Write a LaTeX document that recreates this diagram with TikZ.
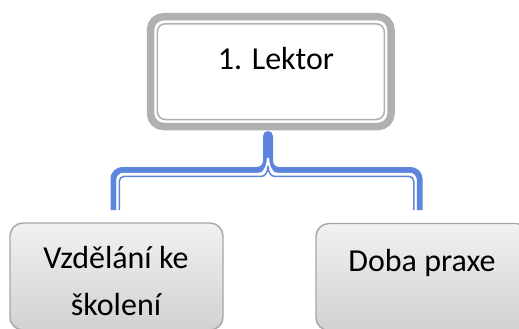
\documentclass[tikz,border=0pt]{standalone}
\usepackage{fontspec}
\setmainfont{Carlito}
\usetikzlibrary{calc}
\definecolor{linkblue}{RGB}{94,133,221}
\definecolor{framegray}{RGB}{176,176,176}
\definecolor{boxedge}{RGB}{166,166,166}
\definecolor{boxtop}{RGB}{241,241,241}
\definecolor{boxbottom}{RGB}{210,210,210}
\begin{document}
\begin{tikzpicture}[x=1pt,y=-1pt,
  leaderframe/.style={draw=framegray, line width=7.5pt, rounded corners=13pt,
    fill=white, outer sep=0pt, inner sep=0pt},
  leaderinner/.style={draw=framegray, line width=1.5pt, rounded corners=8pt},
  childbox/.style={draw=boxedge, line width=1.4pt, rounded corners=13pt,
    top color=boxtop, bottom color=boxbottom, outer sep=0pt, inner sep=0pt},
  thickline/.style={draw=linkblue, line width=6pt, rounded corners=9pt},
  gapline/.style={draw=white, line width=2.2pt, rounded corners=6pt},
  thinline/.style={draw=linkblue, line width=1.5pt, rounded corners=5pt},
  label/.style={inner sep=0pt, outer sep=0pt, anchor=base,
    font=\fontsize{32}{38}\selectfont}]
  \useasboundingbox (0,0) rectangle (519,329);

  % top box with its thick-thin frame
  \node[leaderframe, minimum width=240.5pt, minimum height=109.8pt] (top) at (270.75,71.6) {};
  \draw[leaderinner] ($(top.north west)+(6.8,7.1)$) rectangle ($(top.south east)+(-6.7,-7)$);
  \node[label] (lektor) at (276,69.3) {1. Lektor};

  % child boxes
  \node[childbox, minimum width=213pt, minimum height=107pt] (edu) at (116.5,276.5) {};
  \node[childbox, minimum width=213pt, minimum height=107pt] (exp) at (422.5,277) {};
  \node[label] (edu1) at (116,268.3) {Vzdělání ke};
  \node[label] (edu2) at (116,315) {školení};
  \node[label] (exptext) at (422,271) {Doba praxe};

  % connector end points: stem under the top box, feet above the child boxes
  \coordinate (stem) at ($(top.south)+(-2.75,9.5)$);
  \coordinate (endL) at ($(edu.north)+(-3,-13)$);
  \coordinate (endR) at ($(exp.north)+(-3,-13.5)$);

  % thick strokes of the compound connector
  \fill[linkblue] (stem) circle (5pt);
  \draw[thickline] ($(stem)+(-2,0)$) -- (266,170) -- (113.5,170) -- (endL);
  \draw[thickline] ($(stem)+(2,0)$) -- (270,170) -- (419.5,170) -- (endR);
  % white gaps between thick and thin strokes
  \draw[gapline] ($(stem)+(0,22)$) .. controls ($(stem)+(0,31)$) and ($(stem)+(-5,38)$) .. (254,174)
    -- (117.5,174) -- ($(endL)+(4,0)$);
  \draw[gapline] ($(stem)+(0,22)$) .. controls ($(stem)+(0,31)$) and ($(stem)+(5,38)$) .. (282,174)
    -- (415.5,174) -- ($(endR)+(-4,0)$);
  % thin strokes
  \draw[thinline] ($(stem)+(0,30)$) .. controls ($(stem)+(0,36)$) and ($(stem)+(-3,40.25)$) .. (257,176.25)
    -- (119.25,176.25) -- ($(endL)+(5.75,0)$);
  \draw[thinline] ($(stem)+(0,30)$) .. controls ($(stem)+(0,36)$) and ($(stem)+(3,40.25)$) .. (279,176.25)
    -- (413.75,176.25) -- ($(endR)+(-5.75,0)$);
\end{tikzpicture}
\end{document}
